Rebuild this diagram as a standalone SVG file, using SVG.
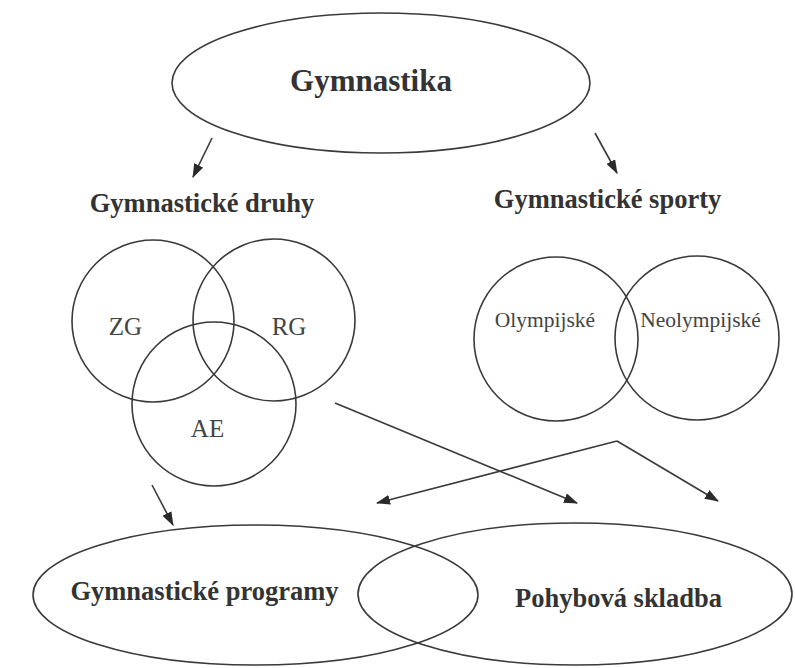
<svg xmlns="http://www.w3.org/2000/svg" width="795" height="668" viewBox="0 0 795 668">
  <style>
    .shape { fill: none; stroke: #3a3a3a; stroke-width: 1.6; }
    .conn { fill: none; stroke: #3a3a3a; stroke-width: 1.6; }
    .bold { font-family: "Liberation Serif", "Times New Roman", serif; font-weight: bold; fill: #333; text-anchor: middle; }
    .reg { font-family: "Liberation Serif", "Times New Roman", serif; fill: #444; text-anchor: middle; }
  </style>
  <defs>
    <marker id="arrow" markerUnits="userSpaceOnUse" markerWidth="14" markerHeight="10" refX="13" refY="5" orient="auto">
      <path d="M0,0 L14,5 L0,10 z" fill="#2a2a2a"/>
    </marker>
  </defs>
  <rect width="795" height="668" fill="#ffffff"/>

  <g id="gymnastika">
    <ellipse class="shape" cx="381" cy="83" rx="209" ry="70"/>
    <text class="bold" x="371" y="91" font-size="31">Gymnastika</text>
  </g>

  <g id="gymnasticke-druhy">
    <text class="bold" x="202" y="212" font-size="26.5">Gymnastické druhy</text>
  </g>

  <g id="gymnasticke-sporty">
    <text class="bold" x="607.5" y="208" font-size="26.5">Gymnastické sporty</text>
  </g>

  <g id="zg">
    <circle class="shape" cx="153" cy="321" r="81"/>
    <text class="reg" x="125.5" y="335" font-size="25">ZG</text>
  </g>
  <g id="rg">
    <circle class="shape" cx="274" cy="320" r="81"/>
    <text class="reg" x="289" y="335" font-size="25">RG</text>
  </g>
  <g id="ae">
    <circle class="shape" cx="214" cy="404" r="82"/>
    <text class="reg" x="207.5" y="437" font-size="25">AE</text>
  </g>

  <g id="olympijske">
    <circle class="shape" cx="556" cy="339" r="82"/>
    <text class="reg" x="545" y="327" font-size="21.5">Olympijské</text>
  </g>
  <g id="neolympijske">
    <circle class="shape" cx="697" cy="338" r="82"/>
    <text class="reg" x="700.5" y="327" font-size="21.5">Neolympijské</text>
  </g>

  <g id="gymnasticke-programy">
    <ellipse class="shape" cx="255.5" cy="595" rx="222.5" ry="70"/>
    <text class="bold" x="204.5" y="600" font-size="26.5">Gymnastické programy</text>
  </g>

  <g id="pohybova-skladba">
    <ellipse class="shape" cx="575" cy="594" rx="217" ry="71"/>
    <text class="bold" x="618.5" y="607" font-size="26.5">Pohybová skladba</text>
  </g>

  <g id="connectors">
    <path class="conn" d="M212,138 L193,177" marker-end="url(#arrow)"/>
    <path class="conn" d="M595,133 L617,173" marker-end="url(#arrow)"/>
    <path class="conn" d="M335,403 L577,503" marker-end="url(#arrow)"/>
    <path class="conn" d="M617,441 L377,503" marker-end="url(#arrow)"/>
    <path class="conn" d="M617,441 L718,501" marker-end="url(#arrow)"/>
    <path class="conn" d="M152,485 L173,525" marker-end="url(#arrow)"/>
  </g>
</svg>
